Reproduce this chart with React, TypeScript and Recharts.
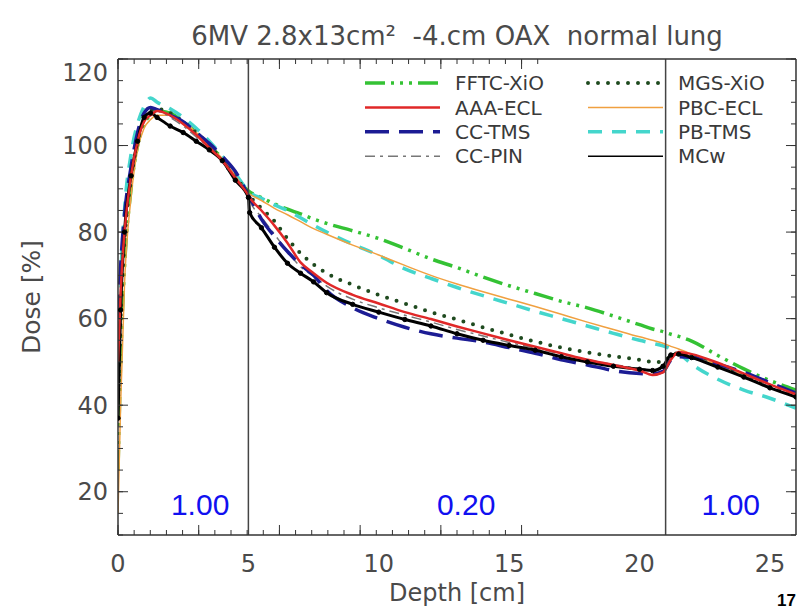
import { Legend, Line, LineChart, ReferenceDot, ReferenceLine, XAxis, YAxis } from "recharts";

// depth grid (cm) shared by all series
const depthCm = [0, 0.1, 0.25, 0.5, 0.75, 1, 1.25, 1.5, 2, 2.5, 3, 3.5, 4, 4.5, 5, 5.05, 5.5, 6, 6.5, 7, 7.5, 8, 9, 10, 11, 12, 13, 14, 15, 16, 17, 18, 19, 20, 20.5, 20.9, 21.2, 21.5, 22, 23, 24, 25, 26];

// dose [%]
const doseFFTC = [25, 50, 72, 90, 100, 105, 107, 108, 107.5, 105.5, 103, 100, 97, 93, 89.5, 89.3, 88, 86.5, 85.3, 84.2, 83, 82, 80.3, 78.5, 76.2, 73.8, 71.8, 69.6, 67.6, 65.8, 64, 62.5, 60.6, 58.6, 57.6, 57, 56.4, 55.9, 54.8, 51.5, 48.4, 45.7, 43.5];
const doseMGS = [40, 60, 78, 92, 101, 106, 108, 108.5, 107.5, 105.5, 103, 100, 96.5, 92.5, 89, 88.5, 85.5, 82.5, 78.5, 75.1, 72.5, 70.5, 67.8, 65.5, 63.5, 61.5, 59.8, 58, 56.3, 54.7, 53.3, 52.2, 51.3, 50.5, 50, 50, 51.5, 52, 51.5, 49.3, 47, 44.5, 42.3];
const doseAAA = [50, 66, 80, 93, 101, 105.5, 107, 108, 107, 105, 102.5, 99.5, 96.5, 92.5, 88.5, 88, 85, 81.5, 77.5, 73, 70.5, 68.3, 65.5, 63.5, 61.5, 59.9, 58.2, 56.6, 55, 53.5, 52, 50.5, 49.3, 48, 47, 47.6, 50.5, 52.3, 51.8, 49.8, 47.3, 44.8, 42.5];
const dosePBC = [15, 40, 68, 88, 99, 104, 106, 107, 107, 105.5, 103, 100, 97, 93, 89, 88.8, 87.3, 85.5, 84, 82.4, 80.8, 79.5, 77, 74.7, 72.3, 70, 68, 66.2, 64.5, 62.8, 61, 59.2, 57.5, 55.8, 55, 54.3, 53.6, 53, 51.8, 49.3, 47, 44.8, 42.5];
const doseCCTMS = [60, 72, 84, 95, 103, 107.5, 108.8, 108.3, 107, 105.5, 103, 100.5, 97.5, 94, 88.5, 88, 83, 79, 75.5, 72.5, 70, 66.5, 62.5, 60, 58, 56.5, 55.5, 54.6, 53.3, 52, 50.5, 49.3, 48, 47.3, 47.2, 47.8, 50.4, 51.2, 51, 49.5, 47.6, 45.2, 42.8];
const dosePBTMS = [45, 68, 85, 98, 105, 109, 111, 110, 108.5, 106.5, 104, 101, 97.5, 93.5, 89.5, 89.2, 87.8, 86.3, 85, 83.3, 81.6, 80, 77.2, 74.6, 71.5, 69.3, 67.2, 65.3, 63.5, 61.7, 60, 58.3, 56.6, 55, 54.3, 53.7, 53, 52, 49.5, 46, 43.5, 41.6, 39.3];
const doseCCPIN = [45, 64, 80, 93, 101, 106, 107.5, 108, 106.5, 104.5, 102, 99.5, 96.5, 92.5, 88.5, 87.5, 83.5, 79.5, 75.5, 72, 69.8, 67.5, 64.5, 62.5, 60.8, 59.2, 57.5, 56, 54.5, 53.2, 51.8, 50.5, 49.4, 48.5, 48.2, 48.7, 51, 51.8, 51.2, 49.2, 46.8, 44.3, 42];
const doseMCw = [37, 62, 80, 93, 101, 106.5, 107.5, 106.5, 104.5, 103, 101, 99, 96.5, 92, 88, 84.5, 81, 76.5, 72.8, 70.5, 68.5, 66, 63.3, 61.5, 59.8, 58.3, 56.5, 55, 53.8, 52.7, 51.2, 50, 49, 48.3, 48, 49, 51.6, 51.8, 51, 48.8, 46.5, 44, 41.9];

// tissue interfaces and relative densities
const interfaces = [5, 21];
const densityLabels = ["1.00", "0.20", "1.00"];
const densityLabelDepth = [3.15, 13.35, 23.5];

const xMajor = [0, 5, 10, 15, 20, 25];
const xMinor = Array.from({ length: 27 }, (_, i) => i);
const yMajor = [20, 40, 60, 80, 100, 120];
const yMinor = Array.from({ length: 23 }, (_, i) => 10 + 5 * i);

const rows = depthCm.map((d, i) => ({
  depth: d,
  fftc: doseFFTC[i],
  mgs: doseMGS[i],
  aaa: doseAAA[i],
  pbc: dosePBC[i],
  cctms: doseCCTMS[i],
  pbtms: dosePBTMS[i],
  ccpin: doseCCPIN[i],
  mcw: doseMCw[i],
}));

type Style = { name: string; color: string; width: number; dash?: string; cap?: "round" | "butt" };

const S: Record<string, Style> = {
  fftc: { name: "FFTC-XiO", color: "#34c234", width: 3.5, dash: "20 6 3 6 3 6 3 6" },
  mgs: { name: "MGS-XiO", color: "#1f4a1f", width: 4, dash: "0 10", cap: "round" },
  aaa: { name: "AAA-ECL", color: "#e02828", width: 2.5 },
  pbc: { name: "PBC-ECL", color: "#f0a040", width: 1.5 },
  cctms: { name: "CC-TMS", color: "#1c1c94", width: 3.5, dash: "24 10" },
  pbtms: { name: "PB-TMS", color: "#44d6cc", width: 3.5, dash: "14 10" },
  ccpin: { name: "CC-PIN", color: "#777777", width: 1.5, dash: "10 5 3 5" },
  mcw: { name: "MCw", color: "#000000", width: 3 },
};

const drawOrder = ["fftc", "pbtms", "pbc", "mgs", "ccpin", "cctms", "mcw", "aaa"];
const legendLeft = ["fftc", "aaa", "cctms", "ccpin"];
const legendRight = ["mgs", "pbc", "pbtms", "mcw"];

const FONT = "'DejaVu Sans', Verdana, sans-serif";
const ARIAL = "'Liberation Sans', Arial, sans-serif";
const TEXT = "#4a4a4a";
const AXIS_LINE = { stroke: "#333", strokeWidth: 1.5 };
const TICK_LINE = { stroke: "#333", strokeWidth: 1 };

function YTick(props: any) {
  const { x, y, payload } = props;
  // top label sits a little below its tick in the original
  const shift = payload.value === 120 ? 13 : 0;
  return (
    <text x={x} y={y + shift} dy="0.355em" textAnchor="end" fontSize={24} fill={TEXT} fontFamily={FONT}>
      {payload.value}
    </text>
  );
}

// frame axes draw tick marks only
const NoLabel = () => <g />;

function LegendBox() {
  const row = (k: string, i: number, x0: number) => {
    const s = S[k];
    const y = 13 + i * 24.4;
    return (
      <g key={k}>
        <line
          x1={x0}
          x2={x0 + 75}
          y1={y}
          y2={y}
          stroke={s.color}
          strokeWidth={k === "mcw" ? 1.5 : s.width}
          strokeDasharray={s.dash}
          strokeLinecap={s.cap ?? "butt"}
        />
        <text x={x0 + 90} y={y} dy="0.36em" fontSize={20} fill="#3a3a3a" fontFamily={FONT}>
          {s.name}
        </text>
      </g>
    );
  };
  return (
    <svg width={450} height={100} style={{ overflow: "visible" }}>
      {legendLeft.map((k, i) => row(k, i, 15))}
      {legendRight.map((k, i) => row(k, i, 238))}
    </svg>
  );
}

// inward tick marks on all four sides, plus the top and right frame lines
const xFrame = [
  ["xb1", "bottom", xMinor, 5],
  ["xb2", "bottom", xMajor, 10],
  ["xt1", "top", xMinor, 5],
  ["xt2", "top", xMajor, 10],
] as const;
const yFrame = [
  ["yl1", "left", yMinor, 5],
  ["yl2", "left", yMajor, 10],
  ["yr1", "right", yMinor, 5],
  ["yr2", "right", yMajor, 10],
] as const;

export default function App() {
  return (
    <div style={{ position: "fixed", left: 0, top: 0, width: 800, height: 611, background: "#fff", overflow: "hidden" }}>
      <LineChart width={800} height={611} data={rows} margin={{ top: 59, right: 4, bottom: 36, left: 58 }}>
        <XAxis
          xAxisId="x"
          dataKey="depth"
          type="number"
          domain={[0, 26]}
          allowDataOverflow
          ticks={xMajor}
          interval={0}
          height={40}
          tickLine={false}
          tickSize={12}
          tickMargin={8}
          axisLine={AXIS_LINE}
          tick={{ fontSize: 24, fill: TEXT, fontFamily: FONT }}
        />
        <YAxis
          yAxisId="y"
          type="number"
          domain={[10, 120]}
          allowDataOverflow
          ticks={yMajor}
          interval={0}
          width={60}
          tickLine={false}
          tickSize={6}
          tickMargin={4}
          axisLine={AXIS_LINE}
          tick={YTick}
        />
        {xFrame.map(([id, o, t, s]) => (
          <XAxis
            key={id}
            xAxisId={id}
            orientation={o}
            mirror
            type="number"
            domain={[0, 26]}
            allowDataOverflow
            ticks={t as unknown as number[]}
            interval={0}
            height={0.01}
            tick={NoLabel}
            tickSize={s}
            tickLine={TICK_LINE}
            axisLine={id === "xt2" ? AXIS_LINE : false}
          />
        ))}
        {yFrame.map(([id, o, t, s]) => (
          <YAxis
            key={id}
            yAxisId={id}
            orientation={o}
            mirror
            type="number"
            domain={[10, 120]}
            allowDataOverflow
            ticks={t as unknown as number[]}
            interval={0}
            width={0.01}
            tick={NoLabel}
            tickSize={s}
            tickLine={TICK_LINE}
            axisLine={id === "yr2" ? AXIS_LINE : false}
          />
        ))}
        {drawOrder.map((k) => {
          const s = S[k];
          return (
            <Line
              key={k}
              xAxisId="x"
              yAxisId="y"
              type="monotone"
              dataKey={k}
              name={s.name}
              stroke={s.color}
              strokeWidth={s.width}
              strokeDasharray={s.dash}
              strokeLinecap={s.cap ?? "butt"}
              dot={k === "mcw" ? { r: 2.2, fill: "#000", stroke: "#000", strokeWidth: 1 } : false}
              activeDot={false}
              isAnimationActive={false}
            />
          );
        })}
        {interfaces.map((x) => (
          <ReferenceLine key={x} xAxisId="x" yAxisId="y" x={x} stroke="#444" strokeWidth={1.5} />
        ))}
        {densityLabels.map((lab, i) => (
          <ReferenceDot
            key={i}
            xAxisId="x"
            yAxisId="y"
            x={densityLabelDepth[i]}
            y={17}
            r={0}
            stroke="none"
            fill="none"
            label={{ value: lab, position: "center", fill: "#1010f0", fontSize: 30, fontFamily: ARIAL }}
          />
        ))}
        <Legend
          layout="vertical"
          align="center"
          verticalAlign="middle"
          content={() => <LegendBox />}
          wrapperStyle={{ left: 350, top: 70, width: 450, height: 100 }}
        />
      </LineChart>

      <div style={{ position: "absolute", left: 57, top: 21, width: 800, textAlign: "center", fontSize: 26, lineHeight: "30px", color: TEXT, fontFamily: FONT, whiteSpace: "pre" }}>
        6MV 2.8x13cm²  -4.cm OAX  normal lung
      </div>
      <div style={{ position: "absolute", left: -38, top: 282, width: 140, height: 30, textAlign: "center", fontSize: 25, lineHeight: "30px", color: TEXT, fontFamily: FONT, transform: "rotate(-90deg)" }}>
        Dose [%]
      </div>
      <div style={{ position: "absolute", left: 357, top: 578, width: 200, textAlign: "center", fontSize: 24, lineHeight: "30px", color: TEXT, fontFamily: FONT }}>
        Depth [cm]
      </div>
      <div style={{ position: "absolute", left: 777, top: 592, fontSize: 17, lineHeight: "18px", fontWeight: "bold", color: "#000", fontFamily: ARIAL }}>
        17
      </div>
    </div>
  );
}
